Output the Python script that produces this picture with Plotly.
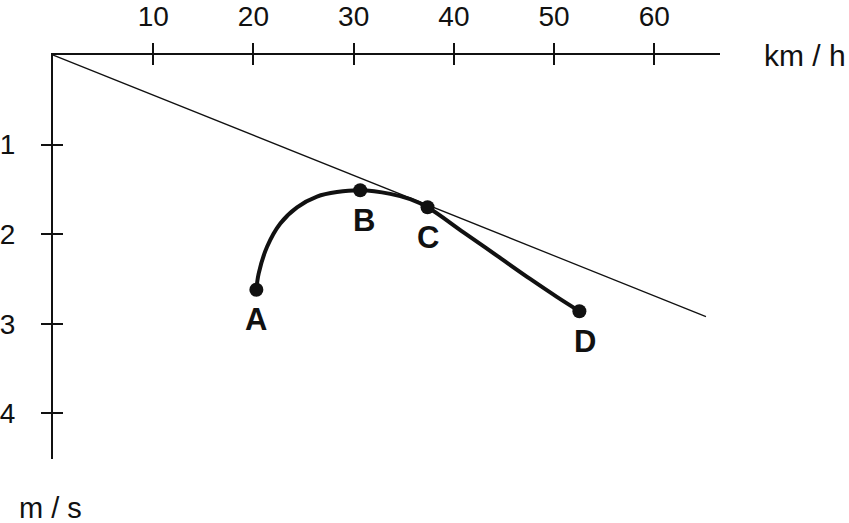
import plotly.graph_objects as go

# data
x_ticks = [10, 20, 30, 40, 50, 60]
y_ticks = [1, 2, 3, 4]

line_x = [0, 65.15]
line_y = [0, 2.92]

curve_x = [20.29, 20.52, 21.36, 22.68, 24.35, 26.34, 28.33, 30.65, 33.65, 35.64, 37.37,
           40.96, 44.29, 47.61, 50.27, 52.52]
curve_y = [2.62, 2.44, 2.14, 1.88, 1.70, 1.58, 1.53, 1.51, 1.55, 1.61, 1.70,
           1.98, 2.24, 2.50, 2.70, 2.86]

point_names = ["A", "B", "C", "D"]
point_x = [20.29, 30.65, 37.37, 52.52]
point_y = [2.62, 1.51, 1.70, 2.86]
label_dx = [0, 4, 0, 6]

X_MAX = 66.55
Y_MAX = 4.51
FONT = "Liberation Sans, Arial, sans-serif"
W, H = 849, 523
L, R, T, B = 52.5, 129, 54.5, 64

fig = go.Figure()

fig.add_trace(go.Scatter(x=line_x, y=line_y, mode="lines",
                         line=dict(color="#111111", width=1.3),
                         hoverinfo="skip", showlegend=False))
fig.add_trace(go.Scatter(x=curve_x, y=curve_y, mode="lines",
                         line=dict(color="#111111", width=4, shape="spline", smoothing=1.0),
                         hoverinfo="skip", showlegend=False))
fig.add_trace(go.Scatter(x=point_x, y=point_y, mode="markers",
                         marker=dict(color="#111111", size=14),
                         hoverinfo="skip", showlegend=False))
# helper trace for the inner ticks axes
fig.add_trace(go.Scatter(x=[None], y=[None], xaxis="x2", yaxis="y2",
                         mode="markers", showlegend=False, hoverinfo="skip"))

for name, px, py, dx in zip(point_names, point_x, point_y, label_dx):
    fig.add_annotation(x=px, y=py, xref="x", yref="y", text=name, showarrow=False,
                       xshift=dx, yshift=-30, xanchor="center", yanchor="middle",
                       font=dict(family=FONT, size=31, color="#111111", weight="bold"))

axis_common = dict(showgrid=False, zeroline=False, showline=True, linecolor="#111111",
                   linewidth=2, tickcolor="#111111", tickwidth=2, ticklen=10,
                   automargin=False)

pw = W - L - R
ph = H - T - B

fig.update_layout(
    template="none",
    width=W, height=H,
    margin=dict(l=L, r=R, t=T, b=B, pad=0),
    paper_bgcolor="white", plot_bgcolor="white",
    font=dict(family=FONT, color="#111111"),
    xaxis=dict(range=[0, X_MAX], side="top", tickvals=x_ticks, ticks="outside",
               tickfont=dict(family=FONT, size=28, color="#111111"),
               ticklabelstandoff=6, **axis_common),
    yaxis=dict(range=[Y_MAX, 0], tickvals=y_ticks, ticks="outside",
               tickfont=dict(family=FONT, size=28, color="#111111"),
               ticklabelstandoff=20, **axis_common),
    xaxis2=dict(range=[0, X_MAX], side="top", overlaying="x", tickvals=x_ticks,
                ticks="inside", showticklabels=False, **axis_common),
    yaxis2=dict(range=[Y_MAX, 0], overlaying="y", tickvals=y_ticks,
                ticks="inside", showticklabels=False, **axis_common),
)

fig.add_annotation(x=(762 - L) / pw, y=1 - (55 - T) / ph, xref="paper", yref="paper",
                   text="km / h", showarrow=False, xanchor="left", yanchor="middle",
                   font=dict(family=FONT, size=30, color="#111111"))
fig.add_annotation(x=(17 - L) / pw, y=1 - (508 - T) / ph, xref="paper", yref="paper",
                   text="m / s", showarrow=False, xanchor="left", yanchor="middle",
                   borderpad=0, font=dict(family=FONT, size=29, color="#111111"))

fig.write_html("out.html", config={"displayModeBar": False},
               post_script="document.body.style.margin='0px';")
